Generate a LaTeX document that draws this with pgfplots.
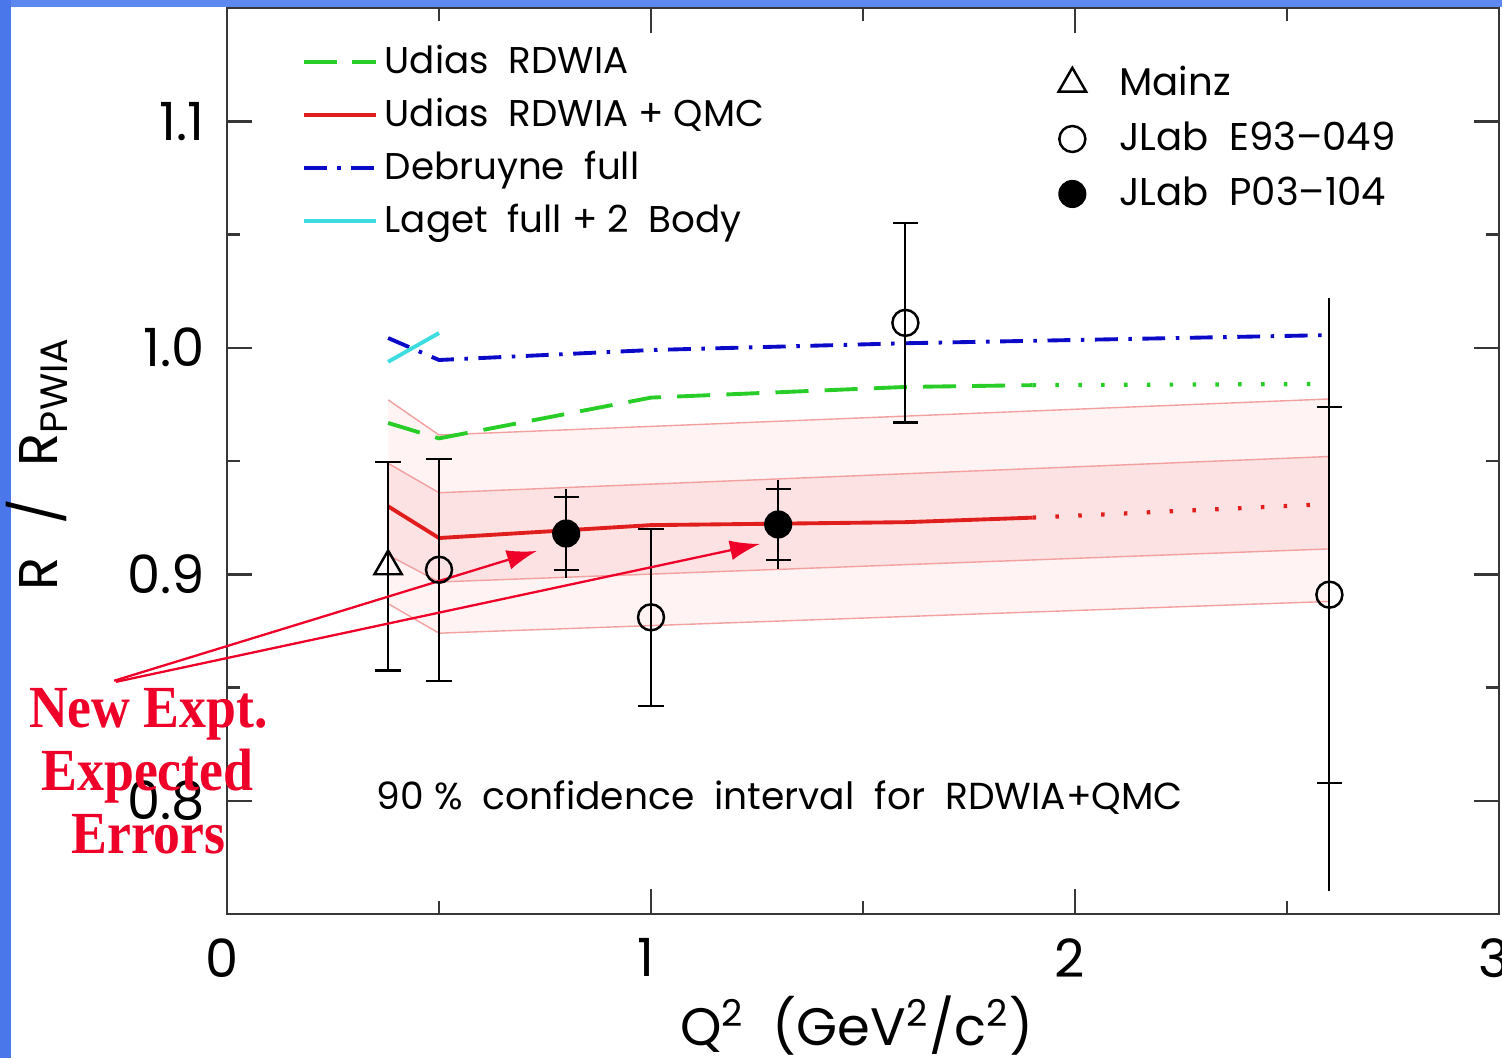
\documentclass[border=0pt]{standalone}
\usepackage{pgfplots}
\pgfplotsset{compat=1.18}
\usetikzlibrary{arrows.meta}
\usepackage{fontspec}
\setmainfont{Poppins}
\newfontfamily\annfont{Liberation Serif}
\definecolor{slideblueL}{RGB}{74,120,234}
\definecolor{slideblueT}{RGB}{92,136,240}
\definecolor{cgreen}{RGB}{40,205,40}
\definecolor{cred}{RGB}{225,30,30}
\definecolor{cblue}{RGB}{10,10,200}
\definecolor{ccyan}{RGB}{60,220,225}
\definecolor{bandline}{RGB}{243,160,160}
\definecolor{bandout}{RGB}{255,243,243}
\definecolor{bandin}{RGB}{252,226,226}
\definecolor{annred}{RGB}{238,0,40}
\definecolor{axgray}{RGB}{55,55,55}
\begin{document}
\begin{tikzpicture}
\useasboundingbox (0,0) rectangle (15.02,10.58);
\fill[white] (0,0) rectangle (15.02,10.58);
\fill[slideblueT] (0,10.51) rectangle (15.02,10.58);
\fill[slideblueL] (0,0) rectangle (0.11,10.58);
\clip (0,0) rectangle (15.02,10.58);
\begin{axis}[
  at={(2.27cm,1.44cm)}, anchor=south west,
  width=12.72cm, height=9.06cm, scale only axis,
  xmin=0, xmax=3, ymin=0.75, ymax=1.15,
  xtick={0,1,2,3}, minor xtick={0.5,1.5,2.5},
  ytick={0.8,0.9,1.0,1.1}, yticklabels={0.8,0.9,1.0,1.1},
  minor ytick={0.85,0.95,1.05},
  major tick length=0.25cm, minor tick length=0.13cm,
  tick style={axgray, line width=0.7pt},
  axis line style={axgray, line width=0.8pt},
  /pgf/number format/assume math mode=true,
  tick label style={font=\fontsize{15}{18}\selectfont},
  xticklabel style={yshift=-0.12cm, xshift=-0.05cm},
  yticklabel style={xshift=-0.1cm},
  xlabel={Q\textsuperscript{2}~~(GeV\textsuperscript{2}/c\textsuperscript{2})},
  xlabel style={at={(axis description cs:0.495,-0.1446)}, anchor=base, font=\fontsize{15}{18}\selectfont},
  ylabel={R\hspace{0.6em}/\hspace{0.6em}R\textsubscript{PWIA}},
  ylabel style={at={(axis description cs:-0.1329,0.497)}, anchor=base, font=\fontsize{15.5}{18}\selectfont},
  clip=false,
  legend style={draw=none, fill=none, at={(0.05,0.975)}, anchor=north west,
    font=\fontsize{10.6}{12.5}\selectfont, row sep=1.5pt},
  legend cell align=left,
  legend image code/.code={\draw[#1] (0cm,0cm) -- (0.72cm,0cm);},
]
% legend images
\addlegendimage{cgreen, line width=1.1pt, dash pattern=on 9.4pt off 4.3pt}
\addlegendentry{Udias~~RDWIA}
\addlegendimage{cred, line width=1.1pt}
\addlegendentry{Udias~~RDWIA + QMC}
\addlegendimage{cblue, line width=1.1pt, dash pattern=on 6.5pt off 3pt on 1pt off 3pt}
\addlegendentry{Debruyne~~full}
\addlegendimage{ccyan, line width=1.1pt}
\addlegendentry{Laget~~full + 2~~Body}
% outer band
\addplot[forget plot, fill=bandout, draw=none] coordinates {
 (0.38,0.977) (0.5,0.9615) (2.6,0.9774) (2.6,0.888) (0.5,0.874) (0.38,0.887)} -- cycle;
% inner band
\addplot[forget plot, fill=bandin, draw=none] coordinates {
 (0.38,0.949) (0.5,0.936) (2.6,0.952) (2.6,0.9112) (0.5,0.8966) (0.38,0.9085)} -- cycle;
\addplot[forget plot, bandline, line width=0.4pt] coordinates {(0.38,0.977) (0.5,0.9615) (2.6,0.9774)};
\addplot[forget plot, bandline, line width=0.4pt] coordinates {(0.38,0.949) (0.5,0.936) (2.6,0.952)};
\addplot[forget plot, bandline, line width=0.4pt] coordinates {(0.38,0.9085) (0.5,0.8966) (2.6,0.9112)};
\addplot[forget plot, bandline, line width=0.4pt] coordinates {(0.38,0.887) (0.5,0.874) (2.6,0.888)};
% theory curves
\addplot[forget plot, cgreen, line width=1.1pt, dash pattern=on 9.4pt off 4.6pt] coordinates {
 (0.38,0.9668) (0.5,0.960) (1.0,0.978) (1.6,0.9827) (1.9,0.9835)};
\addplot[forget plot, cgreen, line width=1.2pt, dash pattern=on 1pt off 5.5pt] coordinates {
 (1.9,0.9835) (2.6,0.984)};
\addplot[forget plot, cred, line width=1.1pt] coordinates {
 (0.38,0.930) (0.5,0.916) (1.0,0.9217) (1.6,0.923) (1.9,0.925)};
\addplot[forget plot, cred, line width=1.2pt, dash pattern=on 1pt off 5.5pt] coordinates {
 (1.9,0.925) (2.6,0.931)};
\addplot[forget plot, cblue, line width=1.1pt, dash pattern=on 6.5pt off 3pt on 1pt off 3pt] coordinates {
 (0.38,1.0043) (0.5,0.9946) (1.0,0.999) (1.6,1.002) (2.6,1.0056)};
\addplot[forget plot, ccyan, line width=1.1pt] coordinates {(0.38,0.9938) (0.5,1.0065)};
% outer (uncapped) error-bar extents
\addplot[forget plot, black, line width=0.6pt] coordinates {(0.80,0.8985) (0.80,0.9375)};
\addplot[forget plot, black, line width=0.6pt] coordinates {(1.30,0.9025) (1.30,0.9415)};
\addplot[forget plot, black, line width=0.6pt] coordinates {(2.60,0.760) (2.60,1.022)};
% Mainz
\addplot[forget plot, only marks, mark=triangle, mark size=4.5pt, black, mark options={line width=0.7pt},
  error bars/.cd, y dir=both, y explicit,
  error bar style={line width=0.6pt, black},
  error mark options={rotate=90, mark size=3.6pt, line width=0.6pt, black}]
  table[x=x, y=y, y error=e] {
x y e
0.38 0.9035 0.046
};
% JLab E93-049
\addplot[forget plot, only marks, mark=o, mark size=3.7pt, black, mark options={line width=0.7pt},
  error bars/.cd, y dir=both, y explicit,
  error bar style={line width=0.6pt, black},
  error mark options={rotate=90, mark size=3.6pt, line width=0.6pt, black}]
  table[x=x, y=y, y error=e] {
x y e
0.5 0.902 0.049
1.0 0.881 0.039
1.6 1.011 0.044
2.6 0.891 0.083
};
% JLab P03-104
\addplot[forget plot, only marks, mark=*, mark size=3.8pt, black,
  error bars/.cd, y dir=both, y explicit,
  error bar style={line width=0.6pt, black},
  error mark options={rotate=90, mark size=3.6pt, line width=0.6pt, black}]
  table[x=x, y=y, y error=e] {
x y e
0.80 0.918 0.016
1.30 0.922 0.0157
};
\node[font=\fontsize{10.7}{13}\selectfont, anchor=center] at (axis cs:1.304,0.8015)
  {90~\%~~confidence~~interval~~for~~RDWIA+QMC};
% annotation arrows
\draw[annred, line width=0.65pt, -{Latex[length=0.3cm, width=0.2cm]}] (axis cs:-0.266,0.853) -- (axis cs:0.731,0.9103);
\draw[annred, line width=0.65pt, -{Latex[length=0.3cm, width=0.2cm]}] (axis cs:-0.262,0.8525) -- (axis cs:1.257,0.9134);
\end{axis}
\begin{axis}[
  at={(2.27cm,1.44cm)}, anchor=south west,
  width=12.72cm, height=9.06cm, scale only axis,
  xmin=0, xmax=3, ymin=0.75, ymax=1.15, hide axis,
  legend style={draw=none, fill=none, at={(0.64,0.952)}, anchor=north west,
    font=\fontsize{11}{13}\selectfont, row sep=2pt},
  legend cell align=left,
  legend image code/.code={\path[draw=none, fill=none] (0cm,0cm) -- (0.6cm,0cm); \draw[#1] plot[only marks] coordinates {(0.2cm,0cm)};},
]
\addlegendimage{mark=triangle, mark size=4.5pt, black, mark options={line width=0.7pt}}
\addlegendentry{Mainz}
\addlegendimage{mark=o, mark size=3.7pt, black, mark options={line width=0.7pt}}
\addlegendentry{JLab~~E93--049}
\addlegendimage{mark=*, mark size=3.8pt, black}
\addlegendentry{JLab~~P03--104}
\end{axis}
\node[annred, font=\annfont\bfseries\fontsize{17}{20}\selectfont, anchor=base, xscale=0.9] at (1.485,3.31) {New Expt.};
\node[annred, font=\annfont\bfseries\fontsize{17}{20}\selectfont, anchor=base, xscale=0.9] at (1.475,2.68) {Expected};
\node[annred, font=\annfont\bfseries\fontsize{17}{20}\selectfont, anchor=base, xscale=0.9] at (1.485,2.05) {Errors};
\end{tikzpicture}
\end{document}
